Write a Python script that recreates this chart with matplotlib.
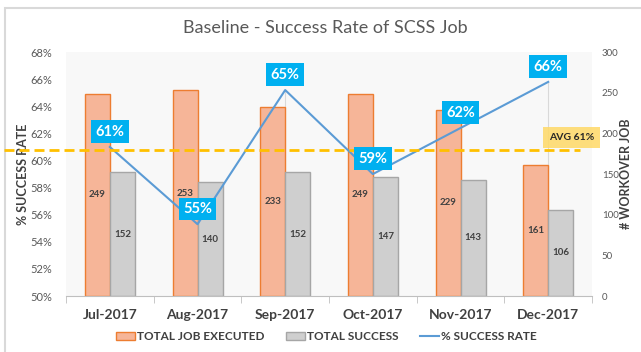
import numpy as np
import matplotlib
matplotlib.use("Agg")
import matplotlib.pyplot as plt
from matplotlib.patches import Patch, Rectangle
from matplotlib.lines import Line2D
from matplotlib.ticker import FuncFormatter, FixedLocator

months = ["Jul-2017", "Aug-2017", "Sep-2017", "Oct-2017", "Nov-2017", "Dec-2017"]
total_executed = [249, 253, 233, 249, 229, 161]
total_success = [152, 140, 152, 147, 143, 106]
success_rate = [61.0, 55.3, 65.2, 59.0, 62.4, 65.8]
avg_rate = 60.8
avg_text = "AVG 61%"

plt.rcParams['font.family'] = ['Lato', 'DejaVu Sans']

fig = plt.figure(figsize=(6.41, 3.52), dpi=100)
ax = fig.add_axes([0.103, 0.159, 0.8206, 0.693])
ax2 = ax.twinx()

# bars live on the right axis, line on the left axis drawn above them
ax.set_zorder(2)
ax.patch.set_visible(False)
ax2.patch.set_visible(True)
ax2.set_facecolor("#F8F8F8")

x = np.arange(len(months))
w = 0.285

b1 = ax2.bar(x - w, total_executed, w, align="edge", color="#F6B598",
             edgecolor="#ED7D31", linewidth=1.0, zorder=2)
b2 = ax2.bar(x, total_success, w, align="edge", color="#CFCFCF",
             edgecolor="#A6A6A6", linewidth=1.0, zorder=2)
ax2.bar_label(b1, label_type="center", fontsize=7, fontweight="bold", color="#404040")
ax2.bar_label(b2, label_type="center", fontsize=7, fontweight="bold", color="#404040")

# faint drop lines from each point
ax2.vlines(x, 50, success_rate, transform=ax.transData, color="#D9D9D9",
           linewidth=0.8, zorder=1)

ax.plot(x, success_rate, color="#5B9BD5", linewidth=1.5, zorder=3)
for xi, v in zip(x, success_rate):
    ax.annotate(f"{v:.0f}%", (xi, v), xytext=(0, 11), textcoords="offset points",
                ha="center", va="center", fontsize=10.5, fontweight="bold",
                color="white", zorder=4,
                bbox=dict(boxstyle="square,pad=0.3", fc="#00B0F0", ec="none"))

# average line
ax.plot([-0.117, 0.977], [avg_rate, avg_rate], transform=ax.get_yaxis_transform(),
        clip_on=False, color="#FFC000", linewidth=2, linestyle=(0, (3.6, 1.8)), zorder=3)
ax.text(0.961, 61.7, avg_text, transform=ax.get_yaxis_transform(), ha="center",
        va="center", fontsize=7.5, fontweight="bold", color="#262626", zorder=4,
        bbox=dict(boxstyle="square,pad=0.6", fc="#FFD966", ec="none", alpha=0.85))

ax.set_xlim(-0.5, len(months) - 0.5)
ax.set_ylim(50, 68)
ax.set_yticks(np.arange(50, 69, 2))
ax.yaxis.set_major_formatter(FuncFormatter(lambda v, p: f"{v:.0f}%"))
ax2.set_ylim(0, 300)
ax2.set_yticks(np.arange(0, 301, 50))

ax.set_xticks(x)
ax.set_xticklabels(months, fontsize=10, fontweight="bold", color="#404040")
ax.xaxis.set_minor_locator(FixedLocator(np.arange(-0.5, len(months), 1)))
ax.tick_params(axis="x", which="major", length=0, pad=9)
ax.tick_params(axis="x", which="minor", length=5, color="#BFBFBF")
ax.tick_params(axis="y", length=0, labelsize=8, labelcolor="#595959", pad=10)
ax2.tick_params(axis="y", length=0, labelsize=7, labelcolor="#595959", pad=7)

for s in ax.spines.values():
    s.set_visible(False)
for s in ax2.spines.values():
    s.set_visible(False)
ax.spines["bottom"].set_visible(True)
ax.spines["bottom"].set_color("#BFBFBF")

ax.set_ylabel("% SUCCESS RATE", fontsize=9, fontweight="bold", color="#404040")
ax.yaxis.set_label_coords(-0.07, 0.5)
ax2.set_ylabel("# WORKOVER JOB", fontsize=9, fontweight="bold", color="#404040",
               rotation=90)
ax2.yaxis.set_label_coords(1.054, 0.5)

fig.text(0.507, 1 - 28 / 352, "Baseline - Success Rate of SCSS Job", ha="center",
         va="center", fontsize=13, color="#595959")

handles = [Patch(facecolor="#F6B598", edgecolor="#ED7D31"),
           Patch(facecolor="#CFCFCF", edgecolor="#A6A6A6"),
           Line2D([], [], color="#5B9BD5", linewidth=1.5)]
labels = ["TOTAL JOB EXECUTED", "TOTAL SUCCESS", "% SUCCESS RATE"]
leg = fig.legend(handles, labels, loc="center", bbox_to_anchor=(0.509, 0.043), ncol=3,
                 frameon=False, handlelength=1.6, handletextpad=0.2, columnspacing=1.8,
                 prop=dict(size=8.5, weight="bold"))
for t in leg.get_texts():
    t.set_color("#404040")

# light frame round the chart
fig.patches.append(Rectangle((5 / 641, -0.02), 1.0, 1 - 8 / 352 + 0.02,
                             transform=fig.transFigure, fill=False,
                             edgecolor="#D9D9D9", linewidth=1.5))

fig.savefig("out.png", dpi=100)
